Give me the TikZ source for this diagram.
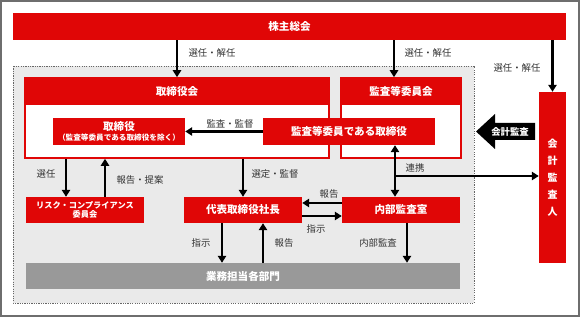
\documentclass[tikz,border=0pt]{standalone}
\usepackage{fontspec}
\newfontfamily\jp{Noto Sans CJK JP}
\usepackage{tikz}
\usetikzlibrary{arrows.meta,calc}
\definecolor{boxred}{RGB}{224,6,6}
\definecolor{deptgray}{RGB}{153,153,153}
\definecolor{areagray}{RGB}{234,234,234}
\definecolor{framegray}{RGB}{110,110,110}

\begin{document}
\begin{tikzpicture}[
    x=0.03cm, y=-0.03cm,
    box/.style={rectangle, fill=boxred, text=white, inner sep=0pt, minimum height=0.81cm, align=center, font=\jp\bfseries\fontsize{9}{11}\selectfont},
    board/.style={rectangle, draw=boxred, line width=1.4pt, fill=white, minimum height=2.4cm, inner sep=0pt},
    head/.style={box, anchor=north, minimum height=0.84cm},
    lbl/.style={font=\jp\fontsize{8}{10}\selectfont, text=black!80, inner sep=1pt},
    arrow/.style={-{Triangle[length=2.1mm,width=2.5mm]}, line width=2.2pt},
    dblarrow/.style={{Triangle[length=2.1mm,width=2.5mm]}-{Triangle[length=2.1mm,width=2.5mm]}, line width=2.2pt}
]
\useasboundingbox (0,0) rectangle (580,317);
\draw[framegray, line width=1.5pt] (1,1) rectangle (579,316);

% group area
\draw[fill=areagray, draw=black!60, line width=0.6pt, dash pattern=on 1pt off 1pt] (13,66) rectangle (474,303);

% top
\node[box, minimum width=16.59cm] (kabu) at (289.5,26.5) {株主総会};

% boards
\node[board, minimum width=9.12cm] (bod) at (177,118) {};
\node[head, minimum width=9.17cm] (bodhead) at (bod.north) {取締役会};
\node[board, minimum width=3.6cm] (acb) at (401,118) {};
\node[head, minimum width=3.65cm] (acbhead) at (acb.north) {監査等委員会};
\node[box, minimum width=3.96cm] (dir) at (119,131.5) {取締役\\[-3pt]{\fontsize{6.5}{7.5}\selectfont （監査等委員である取締役を除く）}};
\node[box, minimum width=5.16cm] (acdir) at (349,131.5) {監査等委員である取締役};

% auditor
\node[box, minimum width=0.81cm, minimum height=5.13cm, font=\jp\bfseries\fontsize{8.5}{14.5}\selectfont] (auditor) at (552.5,177.5) {会\\計\\監\\査\\人};
\fill (476,131.5) -- (495,114) -- (495,123) -- (535,123) -- (535,140) -- (495,140) -- (495,149) -- cycle;
\node[font=\jp\bfseries\fontsize{8}{9}\selectfont, text=white, inner sep=0pt] (kaikei) at (510,131.5) {会計監査};

% lower row
\node[box, minimum width=3.54cm, minimum height=0.78cm, font=\jp\bfseries\fontsize{7}{8}\selectfont] (risk) at (85,210) {リスク・コンプライアンス\\委員会};
\node[box, minimum width=3.54cm, minimum height=0.78cm] (ceo) at (243,210) {代表取締役社長};
\node[box, minimum width=3.54cm, minimum height=0.78cm] (ia) at (401,210) {内部監査室};
\node[box, fill=deptgray, minimum width=13.02cm, minimum height=0.78cm] (dept) at (243,276) {業務担当各部門};

% election arrows
\draw[arrow] (kabu.south -| bod.north) -- (bod.north);
\node[lbl] (sel1) at (212,53) {選任・解任};
\draw[arrow] (kabu.south -| 394,0) -- (394,0 |- acb.north);
\node[lbl] (sel2) at (428,53) {選任・解任};
\draw[arrow] (kabu.south -| auditor.north) -- (auditor.north);
\node[lbl] (sel3) at (517,68) {選任・解任};

\draw[arrow] (acdir.west) -- (dir.east);
\node[lbl] (audit1) at (230,124) {監査・監督};

% board to committees
\draw[arrow] ([xshift=-0.57cm]risk.north |- bod.south) -- ([xshift=-0.57cm]risk.north);
\node[lbl] (sel4) at (46,174) {選任};
\draw[arrow] ([xshift=0.6cm]risk.north) -- ([xshift=0.6cm]risk.north |- bod.south);
\node[lbl] (rep1) at (140,180) {報告・提案};
\draw[arrow] (ceo.north |- bod.south) -- (ceo.north);
\node[lbl] (sel5) at (275,174) {選定・監督};

% cooperation
\coordinate (renkei) at ([xshift=-0.18cm]ia.north |- 0,176);
\draw[dblarrow] ([xshift=-0.18cm]ia.north |- acdir.south) -- ([xshift=-0.18cm]ia.north);
\draw[arrow] (renkei) -- (renkei -| auditor.west);
\node[lbl] (coop) at (415,168) {連携};

% president and internal audit
\draw[arrow] ([yshift=0.21cm]ia.west) -- ([yshift=0.21cm]ia.west -| ceo.east);
\node[lbl] (rep2) at (329,194) {報告};
\draw[arrow] ([yshift=-0.18cm]ceo.east) -- ([yshift=-0.18cm]ceo.east -| ia.west);
\node[lbl] (inst1) at (316,229) {指示};

% to departments
\draw[arrow] ([xshift=-0.63cm]ceo.south) -- ([xshift=-0.63cm]ceo.south |- dept.north);
\node[lbl] (inst2) at (201,243) {指示};
\draw[arrow] ([xshift=0.6cm]ceo.south |- dept.north) -- ([xshift=0.6cm]ceo.south);
\node[lbl] (rep3) at (284,243) {報告};
\draw[arrow] ([xshift=0.18cm]ia.south) -- ([xshift=0.18cm]ia.south |- dept.north);
\node[lbl] (iaudit) at (378,243) {内部監査};

\end{tikzpicture}
\end{document}
